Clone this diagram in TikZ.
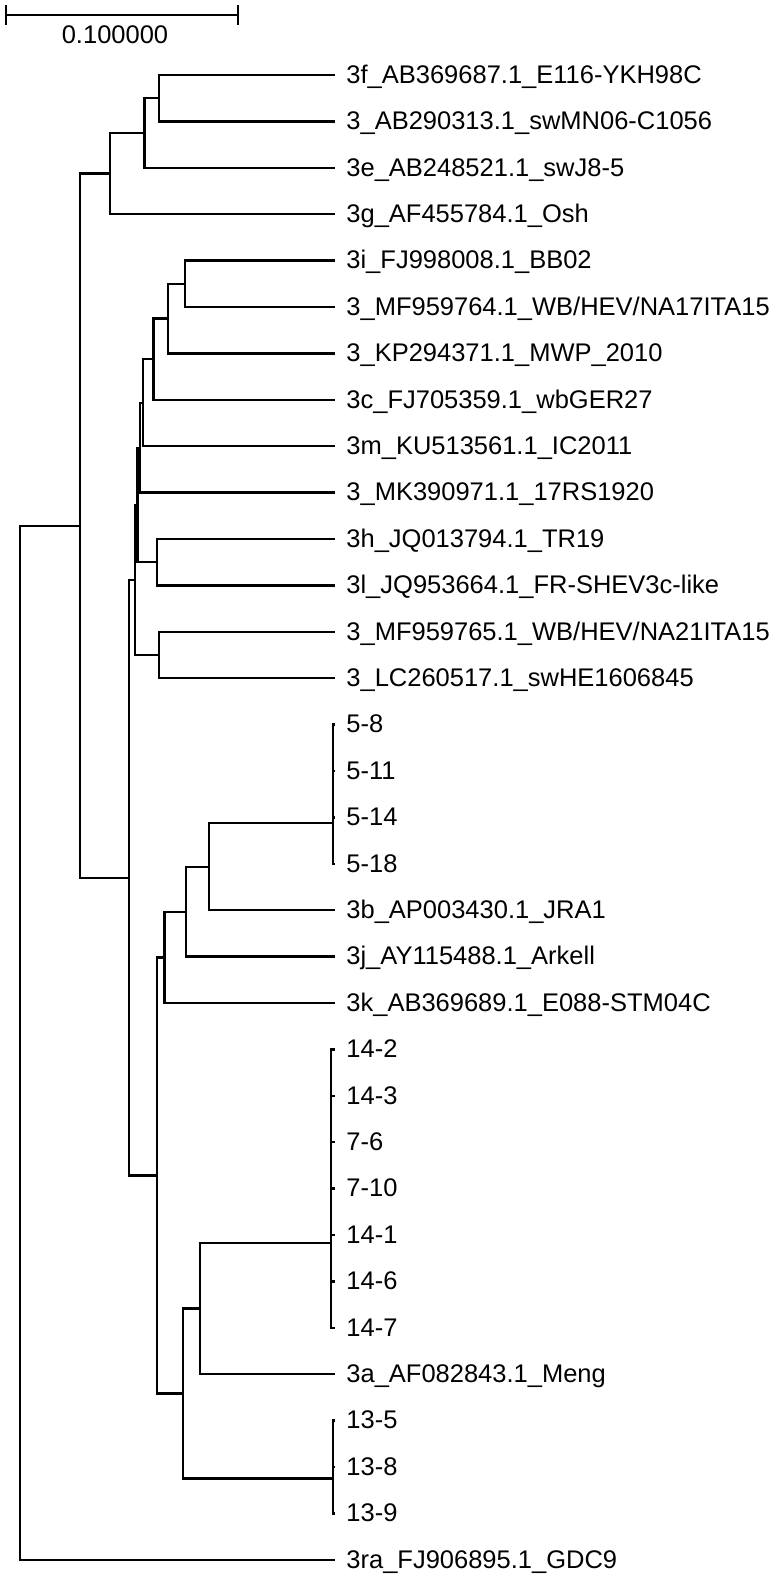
\documentclass[tikz,border=0pt]{standalone}
\usepackage{fontspec}
\setmainfont{Liberation Sans}
\usetikzlibrary{positioning}

\begin{document}
\begin{tikzpicture}[x=0.5pt, y=-0.5pt,
  every node/.style={font=\fontsize{12.75}{15}\selectfont},
  leaf/.style={anchor=west, inner xsep=5.5pt, inner ysep=0pt, text height=0.82em, text depth=0pt},
  branch/.style={line width=1.2pt},
  scalebar/.style={line width=1.1pt}
]
\useasboundingbox (0,0) rectangle (771,1581);

% Scale bar
\coordinate (sbL) at (6,15);
\coordinate (sbR) at (238,15);
\draw[scalebar] (sbL) -- (sbR);
\draw[scalebar] ([yshift=5pt]sbL) -- ([yshift=-5pt]sbL);
\draw[scalebar] ([yshift=5pt]sbR) -- ([yshift=-5pt]sbR);
\node[anchor=base, inner sep=0pt] (scalelabel) at (115,43) {0.100000};

% Leaves
\node[leaf] (l3f) at (335,75) {3f\_AB369687.1\_E116-YKH98C};
\node[leaf] (l3AB) at (335,121.4) {3\_AB290313.1\_swMN06-C1056};
\node[leaf] (l3e) at (335,167.8) {3e\_AB248521.1\_swJ8-5};
\node[leaf] (l3g) at (335,214.2) {3g\_AF455784.1\_Osh};
\node[leaf] (l3i) at (335,260.6) {3i\_FJ998008.1\_BB02};
\node[leaf] (l3MF64) at (335,307) {3\_MF959764.1\_WB/HEV/NA17ITA15};
\node[leaf] (l3KP) at (335,353.4) {3\_KP294371.1\_MWP\_2010};
\node[leaf] (l3c) at (335,399.8) {3c\_FJ705359.1\_wbGER27};
\node[leaf] (l3m) at (335,446.2) {3m\_KU513561.1\_IC2011};
\node[leaf] (l3MK) at (335,492.6) {3\_MK390971.1\_17RS1920};
\node[leaf] (l3h) at (335,539) {3h\_JQ013794.1\_TR19};
\node[leaf] (l3l) at (335,585.4) {3l\_JQ953664.1\_FR-SHEV3c-like};
\node[leaf] (l3MF65) at (335,631.8) {3\_MF959765.1\_WB/HEV/NA21ITA15};
\node[leaf] (l3LC) at (335,678.2) {3\_LC260517.1\_swHE1606845};
\node[leaf] (s58) at (335,724.6) {5-8};
\node[leaf] (s511) at (335,771) {5-11};
\node[leaf] (s514) at (335,817.4) {5-14};
\node[leaf] (s518) at (335,863.8) {5-18};
\node[leaf] (l3b) at (335,910.2) {3b\_AP003430.1\_JRA1};
\node[leaf] (l3j) at (335,956.6) {3j\_AY115488.1\_Arkell};
\node[leaf] (l3k) at (335,1003) {3k\_AB369689.1\_E088-STM04C};
\node[leaf] (s142) at (335,1049.4) {14-2};
\node[leaf] (s143) at (335,1095.8) {14-3};
\node[leaf] (s76) at (335,1142.2) {7-6};
\node[leaf] (s710) at (335,1188.6) {7-10};
\node[leaf] (s141) at (335,1235) {14-1};
\node[leaf] (s146) at (335,1281.4) {14-6};
\node[leaf] (s147) at (335,1327.8) {14-7};
\node[leaf] (l3a) at (335,1374.2) {3a\_AF082843.1\_Meng};
\node[leaf] (s135) at (335,1420.6) {13-5};
\node[leaf] (s138) at (335,1467) {13-8};
\node[leaf] (s139) at (335,1513.4) {13-9};
\node[leaf] (l3ra) at (335,1559.8) {3ra\_FJ906895.1\_GDC9};

% Internal nodes
\coordinate (root) at (20,1042.8);
\coordinate (top) at (80,525.7);
\coordinate (cA) at (110,173.6);
\coordinate (cA1) at (144.3,133);
\coordinate (cA2) at (159,98.2);
\coordinate (cB) at (128.7,877.7);
\coordinate (cB1) at (135,580);
\coordinate (cB3) at (137.3,504.9);
\coordinate (cB5) at (140,447.7);
\coordinate (cB7) at (143,402.7);
\coordinate (cB8) at (153.3,359.2);
\coordinate (cB9) at (167.7,318.6);
\coordinate (cB10) at (185,283.8);
\coordinate (cB6) at (156.7,562.2);
\coordinate (cB4) at (159,655);
\coordinate (cB2) at (156.7,1175.5);
\coordinate (cC) at (164.3,957.3);
\coordinate (cC1) at (186,911.7);
\coordinate (cC2) at (209,866.7);
\coordinate (c5) at (333,823.2);
\coordinate (cD) at (182.7,1393.6);
\coordinate (cD1) at (200,1308.6);
\coordinate (c14) at (331,1243);
\coordinate (c13) at (333,1478.6);

% Branches
\draw[branch] (root) |- (top) (root) |- (l3ra);
\draw[branch] (top) |- (cA) (top) |- (cB);
\draw[branch] (cA) |- (cA1) (cA) |- (l3g);
\draw[branch] (cA1) |- (cA2) (cA1) |- (l3e);
\draw[branch] (cA2) |- (l3f) (cA2) |- (l3AB);
\draw[branch] (cB) |- (cB1) (cB) |- (cB2);
\draw[branch] (cB1) |- (cB3) (cB1) |- (cB4);
\draw[branch] (cB3) |- (cB5) (cB3) |- (cB6);
\draw[branch] (cB5) |- (cB7) (cB5) |- (l3MK);
\draw[branch] (cB7) |- (cB8) (cB7) |- (l3m);
\draw[branch] (cB8) |- (cB9) (cB8) |- (l3c);
\draw[branch] (cB9) |- (cB10) (cB9) |- (l3KP);
\draw[branch] (cB10) |- (l3i) (cB10) |- (l3MF64);
\draw[branch] (cB6) |- (l3h) (cB6) |- (l3l);
\draw[branch] (cB4) |- (l3MF65) (cB4) |- (l3LC);
\draw[branch] (cB2) |- (cC) (cB2) |- (cD);
\draw[branch] (cC) |- (cC1) (cC) |- (l3k);
\draw[branch] (cC1) |- (cC2) (cC1) |- (l3j);
\draw[branch] (cC2) |- (c5) (cC2) |- (l3b);
\draw[branch] (c5) |- (s58) (c5) |- (s511) (c5) |- (s514) (c5) |- (s518);
\draw[branch] (cD) |- (cD1) (cD) |- (c13);
\draw[branch] (cD1) |- (c14) (cD1) |- (l3a);
\draw[branch] (c14) |- (s142) (c14) |- (s143) (c14) |- (s76) (c14) |- (s710)
  (c14) |- (s141) (c14) |- (s146) (c14) |- (s147);
\draw[branch] (c13) |- (s135) (c13) |- (s138) (c13) |- (s139);

\end{tikzpicture}
\end{document}
